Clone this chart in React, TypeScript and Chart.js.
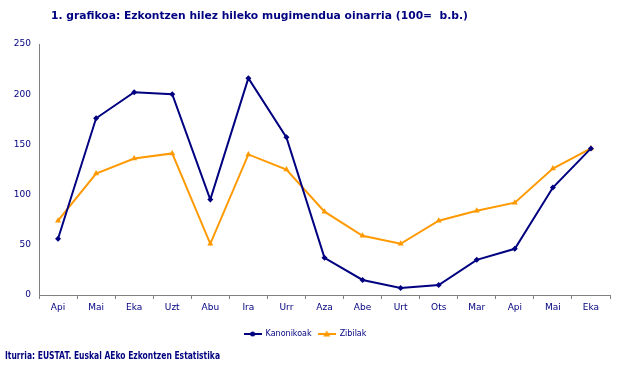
import React, { useEffect, useRef } from "react";
import { Chart, registerables } from "chart.js";

Chart.register(...registerables);

const categories = ["Api", "Mai", "Eka", "Uzt", "Abu", "Ira", "Urr", "Aza", "Abe", "Urt", "Ots", "Mar", "Api", "Mai", "Eka"];
const kanonikoak = [56, 176, 202, 200, 95, 216, 157, 37, 15, 7, 10, 35, 46, 107, 146];
const zibilak = [74, 121, 136, 141, 51, 140, 125, 83, 59, 51, 74, 84, 92, 126, 146];
const yTicks = [0, 50, 100, 150, 200, 250];
const titleText = "1. grafikoa: Ezkontzen hilez hileko mugimendua oinarria (100=  b.b.)";
const footerText = "Iturria: EUSTAT. Euskal AEko Ezkontzen Estatistika";

const NAVY = "#000080";
const ORANGE = "#FF9900";
const FONT = "'DejaVu Sans', Verdana, sans-serif";

function legendImage(color: string, style: "circle" | "triangle") {
  const c = document.createElement("canvas");
  c.width = 18;
  c.height = 8;
  const ctx = c.getContext("2d")!;
  ctx.strokeStyle = color;
  ctx.fillStyle = color;
  ctx.lineWidth = 2;
  ctx.beginPath();
  ctx.moveTo(0, 4);
  ctx.lineTo(18, 4);
  ctx.stroke();
  ctx.beginPath();
  if (style === "circle") {
    ctx.arc(9, 4, 2.5, 0, Math.PI * 2);
  } else {
    ctx.moveTo(9, 0.5);
    ctx.lineTo(12.5, 6.5);
    ctx.lineTo(5.5, 6.5);
    ctx.closePath();
  }
  ctx.fill();
  return c;
}

const textPlugin = {
  id: "textPlugin",
  afterDraw(chart: any) {
    const ctx = chart.ctx as CanvasRenderingContext2D;
    ctx.save();
    ctx.fillStyle = NAVY;
    ctx.textBaseline = "middle";
    ctx.textAlign = "left";
    ctx.font = `bold 11px ${FONT}`;
    const tw = ctx.measureText(titleText).width;
    const targetT = 417;
    ctx.save();
    ctx.translate(51, 16);
    ctx.scale(targetT / tw, 1);
    ctx.fillText(titleText, 0, 0);
    ctx.restore();

    ctx.font = `bold 10px ${FONT}`;
    const fw = ctx.measureText(footerText).width;
    const targetF = 215;
    ctx.save();
    ctx.translate(5, 356);
    ctx.scale(targetF / fw, 1);
    ctx.fillText(footerText, 0, 0);
    ctx.restore();
    ctx.restore();
  },
};

export default function App() {
  const ref = useRef<HTMLCanvasElement>(null);
  useEffect(() => {
    if (!ref.current) return;
    const imgs = [legendImage(NAVY, "circle"), legendImage(ORANGE, "triangle")];
    const chart = new Chart(ref.current, {
      type: "line",
      data: {
        labels: categories,
        datasets: [
          {
            label: "Kanonikoak",
            data: kanonikoak,
            borderColor: NAVY,
            backgroundColor: NAVY,
            borderWidth: 2,
            pointStyle: "rectRot",
            pointRadius: 3,
            pointBorderWidth: 0,
            tension: 0,
          },
          {
            label: "Zibilak",
            data: zibilak,
            borderColor: ORANGE,
            backgroundColor: ORANGE,
            borderWidth: 2,
            pointStyle: "triangle",
            pointRadius: 3.5,
            pointBorderWidth: 0,
            tension: 0,
          },
        ],
      },
      options: {
        animation: false,
        responsive: false,
        maintainAspectRatio: false,
        layout: { padding: { top: 44, right: 18, left: 0, bottom: 24 } },
        plugins: {
          title: { display: false },
          tooltip: { enabled: false },
          legend: {
            display: true,
            position: "bottom",
            labels: {
              usePointStyle: true,
              pointStyleWidth: 18,
              padding: 6,
              color: NAVY,
              font: { family: FONT, size: 8 },
              generateLabels: (c: any) =>
                c.data.datasets.map((d: any, i: number) => ({
                  text: d.label,
                  pointStyle: imgs[i],
                  fillStyle: d.borderColor,
                  strokeStyle: d.borderColor,
                  fontColor: NAVY,
                  lineWidth: 0,
                  datasetIndex: i,
                  hidden: false,
                })),
            },
          },
        },
        scales: {
          x: {
            type: "category",
            offset: true,
            grid: {
              display: true,
              offset: true,
              drawOnChartArea: false,
              drawTicks: true,
              tickLength: 4,
              color: "#808080",
            },
            border: { display: true, color: "#808080", width: 1 },
            ticks: {
              color: NAVY,
              font: { family: FONT, size: 9 },
              maxRotation: 0,
              autoSkip: false,
              padding: 3,
            },
            afterFit: (s: any) => {
              s.height = 29;
            },
          },
          y: {
            min: 0,
            max: 250,
            afterBuildTicks: (s: any) => {
              s.ticks = yTicks.map((v) => ({ value: v }));
            },
            grid: { display: false, drawTicks: false },
            border: { display: true, color: "#808080", width: 1 },
            ticks: {
              color: NAVY,
              font: { family: FONT, size: 9 },
              padding: 8,
            },
            afterFit: (s: any) => {
              s.width = 39;
            },
          },
        },
      },
      plugins: [textPlugin],
    } as any);
    return () => chart.destroy();
  }, []);
  return (
    <div style={{ position: "absolute", left: 0, top: 0, width: 628, height: 372, background: "#fff" }}>
      <canvas ref={ref} width={628} height={372} style={{ width: 628, height: 372 }} />
    </div>
  );
}
